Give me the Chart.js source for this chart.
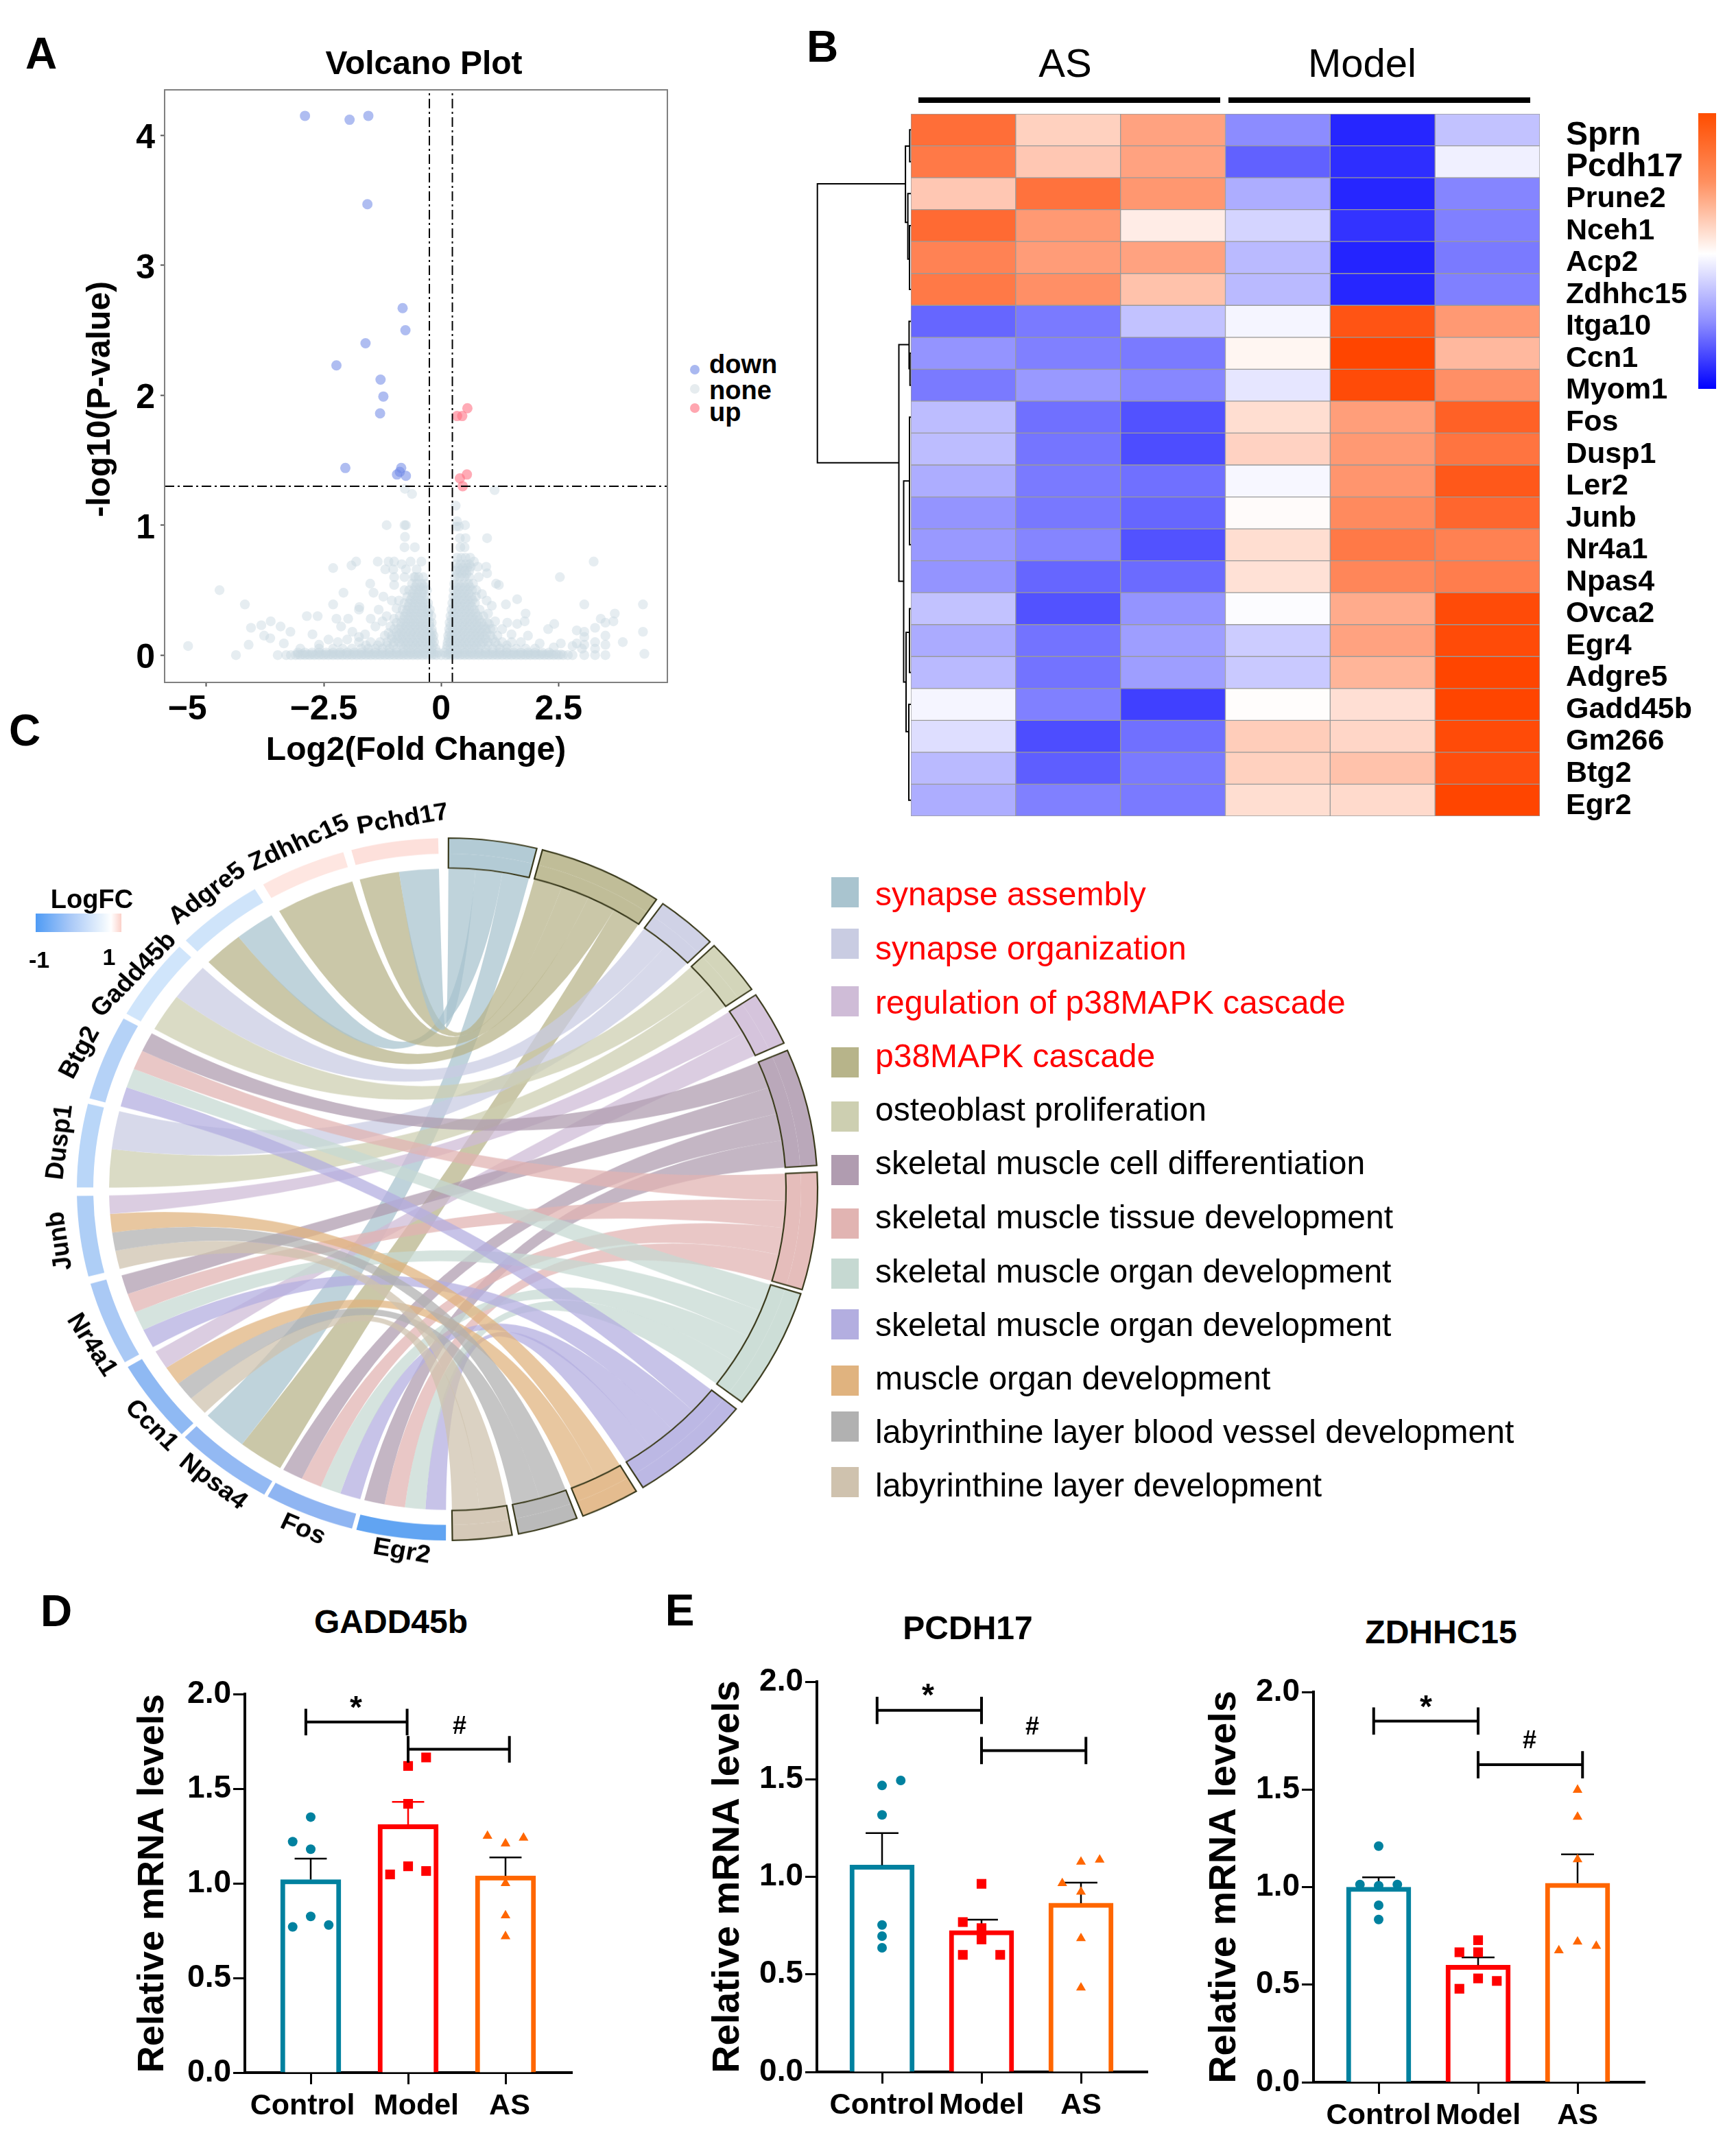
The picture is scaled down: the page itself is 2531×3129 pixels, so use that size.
<!DOCTYPE html>
<html><head><meta charset="utf-8">
<script src="https://cdn.jsdelivr.net/npm/chart.js@4/dist/chart.umd.min.js"></script>
<style>
html,body{margin:0;padding:0;background:#fff;width:2531px;height:3129px;overflow:hidden;position:relative;font-family:'Liberation Sans',Arial,sans-serif}
canvas{position:absolute}
.t{position:absolute;white-space:nowrap;line-height:1;color:#000}
.b{position:absolute}
</style></head><body>
<script>
const FF="'Liberation Sans'";
/* ---------- A: volcano ---------- */
const volcanoXTicks=[-5,-2.5,0,2.5];
const volcanoXLabels=['\u22125    ','\u22122.5','0','2.5'];
const volcanoYTicks=[0,1,2,3,4];
const pThreshold=1.3, fcLow=-0.25, fcHigh=0.24;
const volcanoDown=[[-2.9,4.15],[-1.95,4.12],[-1.55,4.15],[-1.57,3.47],[-.82,2.67],[-.76,2.5],[-1.61,2.4],[-2.23,2.23],[-1.29,2.12],[-1.23,1.99],[-1.3,1.86],[-2.04,1.44],[-.85,1.44],[-.88,1.41],[-.94,1.39],[-.75,1.38]];
const volcanoUp=[[.56,1.9],[.45,1.84],[.34,1.84],[.55,1.39],[.4,1.36],[.46,1.3]];
const noneSparse=[[-5.39,.07],[-4.72,.5],[-4.37,0],[-4.18,.39],[-4.1,.08],[-4.05,.21],[-3.83,.23],[-3.77,.15],[-3.63,.26],[-3.64,.13],[-3.42,.22],[-3.21,.18],[-3.48,0],[-3.35,.09],[-2.86,.3],[-2.63,.3],[-2.74,.16],[-2.3,.67],[-2.08,.48],[-1.91,.69],[-1.81,.72],[-2.3,.39],[-2.23,.28],[-1.98,.28],[-2.13,.22],[-1.89,.18],[-1.74,.37],[-1.75,.35],[-1.51,.55],[-1.44,.48],[-1.33,.35],[-1.23,.45],[-1.35,.72],[-1.16,1],[-.75,1],[-.78,1],[-.77,.91],[-.78,.83],[-.56,.83],[-.62,1.24],[-.77,1.28],[1.14,1.27],[.31,1.15],[.34,1.03],[.38,.99],[.51,1],[.32,.99],[.4,.9],[.52,.9],[.98,.9],[.41,.83],[.5,.83],[.96,.68],[.98,.63],[1.17,.55],[1.23,.54],[.87,.47],[.97,.42],[1.38,.39],[1.62,.43],[1.8,.32],[1.41,.25],[1.78,.26],[1.62,.24],[2.28,.2],[2.41,.24],[1.85,.15],[3.25,.72],[2.53,.6],[3.05,.39],[3.7,.32],[3.4,.28],[3.5,.25],[3.67,.26],[3.28,.21],[2.89,.19],[3.05,.18],[3.5,.15],[3.05,.14],[3.87,.1],[4.3,.39],[4.3,.18],[4.33,.01],[3.5,.08],[3.28,.1],[3.05,.08],[2.89,.09],[3.28,.05],[3.5,0],[3.28,0],[3.05,0],[3,.05],[2.8,.07],[2.55,.09],[2.4,.06],[2.1,.09],[-1.12,.72],[-1,.72],[-.84,.7],[-.65,.72],[-.42,.72],[-1.19,.66],[-1.02,.66],[-.75,.66],[-.52,.66],[-1,.6],[-.78,.6],[-.55,.6],[-1,.54],[-.78,.5],[-1.05,.42],[-1.16,.3],[-1.25,.26],[-1.5,.28],[-1.4,.22],[-1.62,.16],[.7,.72],[.63,.68],[.78,.68],[.8,.6],[.75,.5],[1.08,.38],[1.15,.26],[1.3,.2],[1.5,.16],[1.7,.1],[-2.4,.12],[-2.6,.08],[-2,.12],[-1.75,.14],[-2.2,.1],[-.95,.36],[-1,.28],[-1.08,.22],[-.9,.42],[-1.12,.17],[1,.32],[1.1,.2],[1.02,.24]];
const noneRows=[
[0,[-3.3,-3.2,-3.1,-3,-2.9,-2.8,-2.7,-2.6,-2.5,-2.4,-2.3,-2.2,-2.1,-2,-1.9,-1.8,-1.7,-1.6,-1.5,-1.4,-1.3,-1.2,-1.1,-1,-.9,-.8,-.7,-.6,-.5,-.4,-.3,-.2,-.1,0,.1,.2,.3,.4,.5,.6,.7,.8,.9,1,1.1,1.2,1.3,1.4,1.5,1.6,1.7,1.8,1.9,2,2.1,2.2,2.3,2.4,2.5,2.6,2.7,2.8]],
[.005,[-3.05,-2.95,-2.85,-2.75,-2.65,-2.55,-2.45,-2.35,-2.25,-2.15,-2.05,-1.95,-1.85,-1.75,-1.65,-1.55,-1.45,-1.35,-1.25,-1.15,-1.05,-.95,-.85,-.75,-.65,-.55,-.45,-.35,-.25,-.15,.15,.25,.35,.45,.55,.65,.75,.85,.95,1.05,1.15,1.25,1.35,1.45,1.55,1.65,1.75,1.85,1.95,2.05,2.15,2.25,2.35,2.45,2.55]],
[.02,[-3.05,-2.9,-2.75,-2.6,-2.45,-2.3,-2.15,-2,-1.85,-1.7,-1.55,-1.4,-1.25,-1.1,-.95,-.8,-.65,-.5,-.35,-.2,-.07,.07,.2,.35,.5,.65,.8,.95,1.1,1.25,1.4,1.55,1.7,1.85,2,2.15,2.3]],
[.05,[-3,-2.6,-2.3,-2.1,-1.9,-1.7,-1.55,-1.4,-1.25,-1.1,-.95,-.8,-.7,-.6,-.5,-.4,-.3,-.2,-.12,.12,.2,.3,.4,.5,.6,.7,.8,.95,1.1,1.25,1.4,1.6,1.8,2]],
[.075,[-1.6,-1.35,-1.15,-1.02,-.85,-.75,-.65,-.55,-.45,-.35,-.25,-.17,.13,.25,.35,.45,.55,.65,.75,.85,1,1.2,1.4]],
[.1,[-1.75,-1.5,-1.3,-1.15,-1,-.9,-.8,-.7,-.6,-.5,-.4,-.3,-.22,-.15,.14,.2,.3,.4,.5,.6,.7,.8,.9,1,1.15,1.3,1.5]],
[.125,[-1.05,-.95,-.85,-.75,-.65,-.55,-.45,-.35,-.25,-.18,.16,.25,.35,.45,.55,.65,.75,.85,.95,1.1]],
[.15,[-1.2,-1.05,-.92,-.82,-.72,-.62,-.52,-.42,-.32,-.22,-.16,.15,.22,.32,.42,.52,.62,.72,.82,.92,1.05,1.2]],
[.175,[-.95,-.85,-.75,-.65,-.55,-.45,-.35,-.25,-.19,.18,.27,.37,.47,.57,.67,.77,.87,.97]],
[.2,[-1,-.9,-.8,-.7,-.6,-.5,-.4,-.3,-.2,.17,.25,.35,.45,.55,.65,.75,.85,.95,1.05]],
[.225,[-.85,-.75,-.65,-.55,-.45,-.35,-.25,.2,.3,.4,.5,.6,.7,.8,.9]],
[.25,[-.95,-.85,-.75,-.65,-.55,-.45,-.35,-.25,-.2,.18,.26,.36,.46,.56,.66,.76,.86,.98]],
[.275,[-.8,-.7,-.6,-.5,-.4,-.3,.22,.31,.41,.51,.61,.71,.81]],
[.3,[-.88,-.78,-.68,-.58,-.48,-.38,-.28,-.21,.2,.28,.38,.48,.58,.68,.78,.9]],
[.325,[-.75,-.65,-.55,-.45,-.35,-.27,.25,.33,.43,.53,.63,.73]],
[.35,[-.82,-.72,-.62,-.52,-.42,-.32,-.24,.22,.3,.4,.5,.6,.7,.82]],
[.375,[-.7,-.6,-.5,-.4,-.3,.27,.35,.45,.55,.65]],
[.4,[-.78,-.68,-.58,-.48,-.38,-.28,.24,.32,.42,.52,.62,.72]],
[.425,[-.65,-.55,-.45,-.35,.29,.37,.47,.57,.67]],
[.45,[-.72,-.62,-.52,-.42,-.32,.26,.34,.44,.54,.64,.74]],
[.475,[-.6,-.5,-.4,.31,.39,.49,.59]],
[.5,[-.68,-.58,-.48,-.38,-.3,.27,.36,.46,.56,.66]],
[.525,[-.55,-.45,-.36,.32,.41,.51,.61]],
[.55,[-.62,-.52,-.42,-.34,.28,.38,.48,.58,.68]],
[.6,[-.58,-.48,-.38,.3,.4,.5,.6]],
[.625,[.34,.44,.54]],
[.65,[.31,.4,.5,.6]],
[.675,[.36,.46,.56]],
[.7,[.32,.42,.52,.6]],
[.75,[.34,.43,.52,.62]]
];
/* ---------- B: heatmap ---------- */
const heatColumns=['AS-1','AS-2','AS-3','Model-1','Model-2','Model-3'];
const heatGenes=['Sprn','Pcdh17','Prune2','Nceh1','Acp2','Zdhhc15','Itga10','Ccn1','Myom1','Fos','Dusp1','Ler2','Junb','Nr4a1','Npas4','Ovca2','Egr4','Adgre5','Gadd45b','Gm266','Btg2','Egr2'];
const heatValues=[
[.78,.25,.5,-.45,-.85,-.24],[.72,.3,.5,-.62,-.82,-.06],[.3,.76,.56,-.32,-.85,-.48],[.8,.55,.1,-.17,-.8,-.5],[.67,.53,.5,-.27,-.86,-.52],[.72,.6,.33,-.27,-.85,-.5],
[-.6,-.52,-.24,-.04,.92,.55],[-.42,-.5,-.52,.05,1,.38],[-.52,-.4,-.47,-.1,.97,.6],[-.26,-.56,-.68,.18,.52,.85],[-.26,-.54,-.7,.24,.55,.75],[-.32,-.52,-.56,-.03,.57,.9],
[-.42,-.53,-.6,.02,.63,.82],[-.4,-.48,-.68,.18,.72,.68],[-.42,-.6,-.58,.16,.65,.7],[-.24,-.68,-.42,-.01,.45,.97],[-.33,-.55,-.38,-.2,.5,.97],[-.27,-.55,-.38,-.21,.4,1],
[-.04,-.5,-.75,.01,.17,1],[-.13,-.7,-.56,.27,.22,.97],[-.27,-.63,-.52,.25,.33,.95],[-.32,-.5,-.52,.18,.2,1]];
const dendroPaths=[
[[7.9,2.19],[136.3,2.19],[136.3,10.93],[17.5,10.93]],
[[1.7,1.01],[7.9,1.01],[7.9,3.4],[4.4,3.4]],[[0,.5],[1.7,.5],[1.7,1.5],[0,1.5]],
[[0,2.5],[4.4,2.5],[4.4,4.55],[2,4.55]],[[0,3.5],[2,3.5],[2,5.5],[0,5.5]],
[[2.6,7.23],[17.5,7.23],[17.5,14.64],[10.5,14.64]],[[0,6.5],[2.6,6.5],[2.6,7.98],[1.3,7.98]],[[0,7.5],[1.3,7.5],[1.3,8.5],[0,8.5]],
[[2,11.5],[10.5,11.5],[10.5,17.8],[7,17.8]],[[0,9.5],[2,9.5],[2,13.5],[0,13.5]],
[[2,16.24],[7,16.24],[7,19.35],[3,19.35]],[[0,15.5],[2,15.5],[2,17.5],[0,17.5]],[[0,18.5],[3,18.5],[3,21.5],[0,21.5]]];
/* ---------- C: chord ---------- */
const legendTerms=['synapse assembly','synapse organization','regulation of p38MAPK cascade','p38MAPK cascade','osteoblast proliferation','skeletal muscle cell differentiation','skeletal muscle tissue development','skeletal muscle organ development','skeletal muscle organ development','muscle organ development','labyrinthine layer blood vessel development','labyrinthine layer development'];
const legendColors=['#a9c4cf','#c9cce2','#cfbcd7','#b7b48a','#cdcfb1','#b09cb0','#e1b4b2','#c6d9d2','#b3aee0','#e0b37f','#b1b1b1','#cfc2ae'];
const legendTextColors=['#f00','#f00','#f00','#f00','#000','#000','#000','#000','#000','#000','#000','#000'];
const ringTerms=[0,3,1,4,2,5,6,7,8,9,10,11];
const ringTermDeg=[13.8,19.5,9.6,9.2,9,19.4,19.4,20,19.4,9.2,9.4,9.3];
const ringTermGap=[.9,1.2,.9,1.1,1.3,1.1,.7,1.4,1.2,1,1,1];
const chordGenes=['Egr2','Fos','Npsa4','Ccn1','Nr4a1','Junb','Dusp1','Btg2','Gadd45b','Adgre5','Zdhhc15','Pchd17'];
const geneDeg=[14,14.1,15.5,13.8,13.9,13.3,13.8,14.1,13.7,13.6,13.5,13.6];
const geneGap=[.7,.6,.7,.9,1.2,1.4,.9,.9,1.4,1.5,1.3,1.6];
const geneColors=['#61a4f2','#8fb5f2','#93b9f3','#8fb9f3','#aac9f5','#aecef6','#b9d6f8','#b5d2f7','#d0e5fb','#cfe4fa','#fee6e1','#fde0db'];
const geneLinks=[[5,6,7,8],[5,6,7,8],[0,1],[4,9,10,11],[5,6,7,8],[4,9,10,11],[2,3],[5,6,7,8],[2,3],[0,1],[1],[0,1]];
const geneLabelDeg=[186.8,201.9,217.2,229.9,245.2,262,277.3,291.4,305.8,322.4,337.9,353.5];
const geneLabelRadius=[561,564,565,564,571,570,569,575,563,573,574,572];
const geneLabelRot=[10,24,38,46,58,-98,-83,-62,-47,-38,-25,-10];
/* ---------- D / E: bars ---------- */
const groups=['Control','Model','AS'];
const gaddLabels=['Control  ','  Model',' AS'];
const gaddMeans=[1.02,1.31,1.04], gaddTops=[1.13,1.43,1.137];
const gaddControl=[[-.185,1.22],[0,1.35],[0,1.18],[-.185,.77],[0,.825],[.185,.78]];
const gaddModel=[[.185,1.665],[0,1.62],[0,1.42],[-.185,1.047],[0,1.09],[.185,1.065]];
const gaddAS=[[-.185,1.25],[0,1.21],[.185,1.24],[0,1],[0,.83],[0,.72]];
const pcdhMeans=[1.06,.725,.865], pcdhTops=[1.224,.78,.97];
const pcdhControl=[[.188,1.494],[0,1.468],[0,1.317],[0,.753],[0,.696],[0,.636]];
const pcdhModel=[[0,.964],[-.188,.768],[0,.737],[0,.679],[-.188,.6],[.188,.6]];
const pcdhAS=[[.188,1.087],[0,1.077],[-.188,.967],[0,.923],[0,.685],[0,.432]];
const zdhMeans=[1,.6,1.02], zdhTops=[1.05,.64,1.168];
const zdhControl=[[0,1.21],[-.188,1.013],[0,1.007],[.188,1.013],[0,.907],[0,.834]];
const zdhModel=[[0,.728],[-.188,.666],[0,.666],[0,.532],[.188,.519],[-.188,.479]];
const zdhAS=[[0,1.498],[0,1.36],[0,1.142],[0,.72],[-.188,.675],[.188,.698]];
const gaddBrackets=[[-.05,.99,1.852],[1,2.04,1.708]];
const pcdhBrackets=[[-.05,1,1.853],[1,2.05,1.647]];
const zdhBrackets=[[-.05,1,1.851],[1,2.05,1.627]];
const barTicks=[0,.5,1,1.5,2];
const groupColors=['#00819f','#ff0000','#ff6600'];

/* ---------- helpers ---------- */
function T(text,x,y,font,opt={}){const d=document.createElement('div');d.className='t';d.textContent=text;
 d.style.left=x+'px';d.style.top=y+'px';d.style.font=font+" "+FF;d.style.lineHeight='1';if(opt.color)d.style.color=opt.color;
 d.style.transform=(opt.left?'translate(0,-50%)':'translate(-50%,-50%)')+(opt.rot?` rotate(${opt.rot}deg)`:'');document.body.appendChild(d);return d;}
function R(x,y,w,h,bg){const d=document.createElement('div');d.className='b';d.style.cssText+=`left:${x}px;top:${y}px;width:${w}px;height:${h}px;background:${bg}`;document.body.appendChild(d);return d;}
function C(x,y,w,h){const c=document.createElement('canvas');c.width=w;c.height=h;c.style.cssText=`left:${x}px;top:${y}px;width:${w}px;height:${h}px`;document.body.appendChild(c);return c;}
function alpha(hex,a){const n=parseInt(hex.slice(1),16);return `rgba(${n>>16},${(n>>8)&255},${n&255},${a})`;}
Chart.defaults.animation=false;Chart.defaults.responsive=false;Chart.defaults.devicePixelRatio=1;Chart.defaults.color='#000';
Chart.defaults.font.family=FF;Chart.defaults.plugins.legend.display=false;Chart.defaults.plugins.tooltip.enabled=false;

/* panel letters */
[['A',60,78],['B',1199,68],['C',36,1065],['D',82,2349],['E',991,2348]].forEach(a=>T(a[0],a[1],a[2],'bold 64px'));

/* ---------- A ---------- */
(function(){
 const L=240,Tp=131,W=733,H=864,aw=100,pt=70,pr=30,bh=129;
 const none=[];noneRows.forEach(r=>r[1].forEach(x=>none.push({x,y:r[0]})));noneSparse.forEach(p=>none.push({x:p[0],y:p[1]}));
 const pts=a=>a.map(p=>({x:p[0],y:p[1]}));
 const xMin=-5.89,xMax=4.82,yMin=-.21,yMax=4.35;
 const dash=[14,5,3,5];
 const ln=(d)=>({type:'line',data:d,borderColor:'#000',borderWidth:2,borderDash:dash,pointRadius:0,tension:0});
 new Chart(C(L-aw,Tp-pt,aw+W+pr,pt+H+bh),{type:'scatter',data:{datasets:[
  ln([{x:fcLow,y:yMin},{x:fcLow,y:yMax}]),ln([{x:fcHigh,y:yMin},{x:fcHigh,y:yMax}]),ln([{x:xMin,y:pThreshold},{x:xMax,y:pThreshold}]),
  {label:'down',data:pts(volcanoDown),backgroundColor:'rgba(110,135,230,.55)',borderWidth:0,pointRadius:7.5},
  {label:'up',data:pts(volcanoUp),backgroundColor:'rgba(255,110,130,.58)',borderWidth:0,pointRadius:7.5},
  {label:'none',data:none,backgroundColor:'rgba(200,214,224,.45)',borderWidth:0,pointRadius:7.2}]},
 options:{layout:{padding:{top:pt,right:pr}},scales:{
  x:{type:'linear',min:xMin,max:xMax,afterBuildTicks:s=>{s.ticks=volcanoXTicks.map(v=>({value:v}))},afterFit:s=>{s.height=bh},
   grid:{drawOnChartArea:false,tickLength:6,tickColor:'#555',tickWidth:2},border:{color:'#808080',width:2},
   ticks:{font:{size:50,weight:'bold'},padding:4,maxRotation:0,autoSkip:false,callback:(v,i)=>volcanoXLabels[i]},
   title:{display:true,text:'Log2(Fold Change)',font:{size:48,weight:'bold'},padding:0}},
  y:{type:'linear',min:yMin,max:yMax,afterBuildTicks:s=>{s.ticks=volcanoYTicks.map(v=>({value:v}))},afterFit:s=>{s.width=aw},
   grid:{drawOnChartArea:false,tickLength:6,tickColor:'#555',tickWidth:2},border:{color:'#808080',width:2},
   ticks:{font:{size:50,weight:'bold'},padding:8,labelOffset:5}}}},
 plugins:[{id:'box',afterDraw(c){const a=c.chartArea,x=c.ctx;x.save();x.strokeStyle='#808080';x.lineWidth=2;x.strokeRect(a.left,a.top,a.width,a.height);x.restore();}}]});
 T('Volcano Plot',618,92,'bold 48px');
 T('-log10(P-value)',144,582,'bold 48px',{rot:-90});
 [['down',531,539,'#a9b8f0'],['none',569,567,'#e6ecef'],['up',601,595,'#ffa6b0']].forEach(a=>{T(a[0],1034,a[1],'bold 38px',{left:1});
   const d=R(1006,a[2]-7,14,14,a[3]);d.style.borderRadius='50%';});
})();

/* ---------- B ---------- */
function heatColor(v){const m=(a,b,t)=>Math.round(a+(b-a)*t);
 return v>=0?`rgb(255,${m(255,69,v)},${m(255,0,v)})`:`rgb(${m(255,0,-v)},${m(255,0,-v)},255)`;}
(function(){
 const L=1328,Tp=166,W=917,H=1024,aw=240,pad=100;
 new Chart(C(L,Tp-pad,W+aw,H+2*pad),{type:'bar',data:{labels:heatGenes,datasets:heatColumns.map((c,ci)=>({label:c,
   data:heatValues.map(()=>[ci,ci+1]),backgroundColor:heatValues.map(r=>heatColor(r[ci])),borderColor:'#9a9a9a',borderWidth:1,borderSkipped:false,barPercentage:1,categoryPercentage:1,grouped:false}))},
 options:{indexAxis:'y',layout:{padding:{top:pad,bottom:pad}},scales:{
  x:{display:false,min:0,max:6,stacked:false},
  y:{position:'right',afterFit:s=>{s.width=aw},grid:{display:false},border:{display:false},
   ticks:{autoSkip:false,padding:30,labelOffset:8,font:c=>({size:c.index<2?48:43,weight:'bold'})}}}}});
 new Chart(C(1186,Tp,142,H),{type:'scatter',data:{datasets:dendroPaths.map(p=>({data:p.map(q=>({x:q[0],y:q[1]})),showLine:true,pointRadius:0,borderColor:'#000',borderWidth:2,tension:0}))},
  options:{scales:{x:{display:false,min:0,max:142,reverse:true},y:{display:false,min:0,max:22,reverse:true}}}});
 T('AS',1553,92,'58px');T('Model',1986,92,'58px');
 R(1339,142,440,8,'#000');R(1791,142,440,8,'#000');
 R(2476,165,26,402,'linear-gradient(to bottom,#ff4d00 0%,#ff9060 25%,#ffffff 51%,#8c8cff 76%,#0000ff 100%)');
})();

/* ---------- C ---------- */
(function(){
 const S=1240,rx=542,ry=514,cx=652,cy=1734;
 const ringColor=i=>legendColors[ringTerms[i]];
 const segs=[],colsA=[],colsB=[];
 ringTermDeg.forEach((d,i)=>{const c=alpha(ringColor(i),.88);segs.push(d,ringTermGap[i]);colsA.push(c,'rgba(0,0,0,0)');colsB.push(c,'rgba(0,0,0,0)');});
 geneDeg.forEach((d,i)=>{segs.push(d,geneGap[i]);colsA.push(geneColors[i],'rgba(0,0,0,0)');colsB.push('rgba(0,0,0,0)','rgba(0,0,0,0)');});
 const labels=[];ringTerms.forEach(i=>labels.push(legendTerms[i],''));chordGenes.forEach(g=>labels.push(g,''));
 const rOuter=540,rSplit=516,rInner=494;
 const chordPlugin={id:'chord',
  beforeDatasetsDraw(c){const x=c.ctx,arcs=c.getDatasetMeta(0).data,tn=ringTermDeg.length;
   const X0=arcs[0].x,Y0=arcs[0].y,r=rInner-1;
   const termArc=i=>arcs[2*i],geneArc=j=>arcs[2*tn+2*j];
   const termGenes=ringTermDeg.map((_,t)=>{const a=[];geneLinks.forEach((l,g)=>{if(l.includes(t))a.push(g)});return a.reverse();});
   const P=a=>[X0+r*Math.cos(a),Y0+r*Math.sin(a)];
   x.save();
   geneLinks.forEach((terms,g)=>{const order=[...terms].reverse();const ga=geneArc(g);const gw=(ga.endAngle-ga.startAngle)/order.length;
    order.forEach((t,k)=>{const ta=termArc(t);const list=termGenes[t];const tw=(ta.endAngle-ta.startAngle)/list.length;const ti=list.indexOf(g);
     const a0=ga.startAngle+k*gw,a1=a0+gw,b0=ta.startAngle+ti*tw,b1=b0+tw;
     const pb=P(b0),pa=P(a0);
     x.beginPath();x.arc(X0,Y0,r,a0,a1);x.quadraticCurveTo(X0,Y0,pb[0],pb[1]);x.arc(X0,Y0,r,b0,b1);x.quadraticCurveTo(X0,Y0,pa[0],pa[1]);x.closePath();
     x.globalAlpha=.74;x.fillStyle=ringColor(t);x.fill();});});
   x.restore();},
  afterDatasetsDraw(c){const x=c.ctx,arcs=c.getDatasetMeta(0).data,tn=ringTermDeg.length;const X0=arcs[0].x,Y0=arcs[0].y;
   x.save();x.strokeStyle='#3a3a1c';x.lineWidth=2.2;
   for(let i=0;i<tn;i++){const a=arcs[2*i];x.beginPath();x.arc(X0,Y0,rOuter,a.startAngle,a.endAngle);x.arc(X0,Y0,rInner,a.endAngle,a.startAngle,true);x.closePath();x.stroke();}
   x.fillStyle='#000';x.font="bold 38px "+FF;x.textAlign='center';x.textBaseline='middle';
   chordGenes.forEach((g,j)=>{const m=(geneLabelDeg[j]-90)*Math.PI/180;
    const px=X0+geneLabelRadius[j]*Math.cos(m),py=Y0+geneLabelRadius[j]*Math.sin(m);
    x.save();x.translate(px,py);x.rotate(geneLabelRot[j]*Math.PI/180);x.fillText(g,0,0);x.restore();});
   x.restore();}};
 const cv=C(cx-S/2,cy-S/2,S,S);cv.style.transform=`scaleY(${ry/rx})`;
 new Chart(cv,{type:'doughnut',data:{labels,datasets:[
  {data:segs,backgroundColor:colsA,borderWidth:0,weight:rOuter-rSplit},
  {data:segs,backgroundColor:colsB,borderWidth:0,weight:rSplit-rInner}]},
  options:{radius:rOuter,cutout:(rInner/rOuter*100)+'%',rotation:.2,circumference:360},plugins:[chordPlugin]});
 T('LogFC',134,1311,'bold 38px');
 R(52,1332,125,27,'linear-gradient(to right,#4f9bf5 0%,#a8c8f7 40%,#eef6fd 80%,#fff 88%,#fbd0c8 100%)');
 T('-1',57,1399,'bold 34px');T('1',159,1395,'bold 34px');
 const sy=[1279,1354,1438,1527,1606,1684,1762,1835,1909,1991,2058,2139];
 const ty=[1304,1383,1462,1540,1618,1696,1775,1854,1932,2010,2088,2166];
 legendTerms.forEach((t,i)=>{R(1212,sy[i],40,44,legendColors[i]);T(t,1276,ty[i],'48px',{left:1,color:legendTextColors[i]});});
})();

/* ---------- D / E ---------- */
function barPanel(o){
 const xU=o.x[1]-o.x[0];const xMin=(o.axisX-o.x[0])/xU,xMax=(o.right-o.x[0])/xU;
 const pt=60,pr=60,bb=90;
 const shapes=['circle','rect','triangle'],sizes=[7,10,8.2];
 const ds=[];
 o.brackets.forEach(b=>{const h=.07;ds.push({type:'line',data:[{x:b[0],y:b[2]+h},{x:b[0],y:b[2]-h},{x:b[0],y:b[2]},{x:b[1],y:b[2]},{x:b[1],y:b[2]+h},{x:b[1],y:b[2]-h}],borderColor:'#000',borderWidth:4,pointRadius:0,tension:0,borderJoinStyle:'miter'});});
 o.points.forEach((a,i)=>ds.push({type:'scatter',label:groups[i],data:a.map(p=>({x:i+p[0],y:p[1]})),backgroundColor:groupColors[i],borderWidth:0,pointStyle:shapes[i],pointRadius:sizes[i]}));
 o.tops.forEach((t,i)=>{const c=.165;ds.push({type:'line',data:[{x:i,y:o.means[i]},{x:i,y:t},{x:i-c,y:t},{x:i+c,y:t}],borderColor:o.errColors[i],borderWidth:2.5,pointRadius:0,tension:0});});
 ds.push({type:'bar',label:o.title,data:o.means.map((m,i)=>({x:i,y:m})),barThickness:o.barW,backgroundColor:'#fff',borderColor:groupColors,borderWidth:7,borderSkipped:'bottom'});
 new Chart(C(o.axisX-o.aw,o.y2-pt,o.aw+(o.right-o.axisX)+pr,pt+(o.y0-o.y2)+bb),{type:'bar',data:{datasets:ds},
 options:{layout:{padding:{top:pt,right:pr}},scales:{
  x:{type:'linear',min:xMin,max:xMax,offset:false,afterBuildTicks:s=>{s.ticks=[0,1,2].map(v=>({value:v}))},afterFit:s=>{s.height=bb},
   grid:{offset:false,drawOnChartArea:false,tickLength:17,tickColor:'#000',tickWidth:3},border:{color:'#000',width:4},
   ticks:{font:{size:43,weight:'bold'},padding:6,maxRotation:0,autoSkip:false,callback:v=>o.xLabels[v]}},
  y:{type:'linear',min:0,max:2,afterBuildTicks:s=>{s.ticks=barTicks.map(v=>({value:v}))},afterFit:s=>{s.width=o.aw},
   grid:{drawOnChartArea:false,tickLength:17,tickColor:'#000',tickWidth:3},border:{color:'#000',width:4},
   ticks:{font:{size:46,weight:'bold'},padding:3,callback:v=>v.toFixed(1)},
   title:{display:true,text:'Relative mRNA levels',font:{size:o.ts,weight:'bold'},padding:0}}}}});
 T(o.title,o.tx,o.ty,'bold 48px');
 T('*',o.star[0],o.star[1]+9,'bold 46px');T('#',o.hash[0],o.hash[1],'bold 36px');
}
barPanel({title:'GADD45b',tx:570,ty:2365,axisX:357,right:834,y0:3022,y2:2470,x:[453,595],aw:166,barW:88,ts:54,xLabels:gaddLabels,means:gaddMeans,tops:gaddTops,points:[gaddControl,gaddModel,gaddAS],brackets:gaddBrackets,errColors:['#000','#f00','#000'],star:[519,2480],hash:[670,2516]});
barPanel({title:'PCDH17',tx:1411,ty:2374,axisX:1191,right:1673,y0:3021,y2:2452,x:[1286,1431],aw:163,barW:94,ts:56,xLabels:groups,means:pcdhMeans,tops:pcdhTops,points:[pcdhControl,pcdhModel,pcdhAS],brackets:pcdhBrackets,errColors:['#000','#000','#000'],star:[1353,2462],hash:[1505,2517]});
barPanel({title:'ZDHHC15',tx:2101,ty:2380,axisX:1915,right:2398,y0:3036,y2:2467,x:[2010,2155],aw:163,barW:94,ts:56,xLabels:groups,means:zdhMeans,tops:zdhTops,points:[zdhControl,zdhModel,zdhAS],brackets:zdhBrackets,errColors:['#000','#000','#000'],star:[2079,2479],hash:[2230,2537]});
</script>
</body></html>
